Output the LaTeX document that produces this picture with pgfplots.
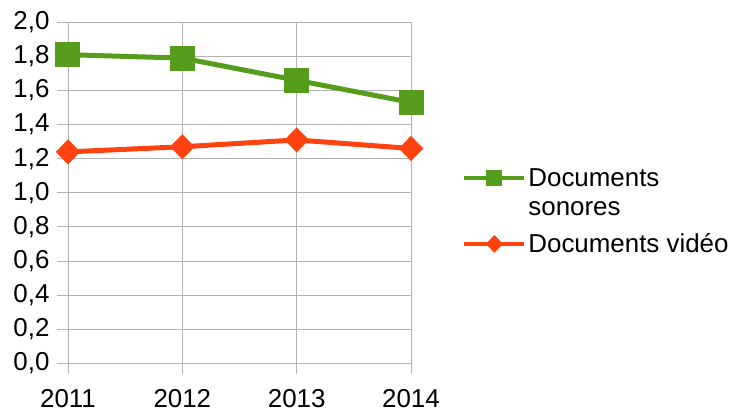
\documentclass[border=0pt]{standalone}
\usepackage{fontspec}
\setmainfont{Liberation Sans}
\usepackage{pgfplots}
\pgfplotsset{compat=1.18}
\definecolor{lgreen}{HTML}{579D1C}
\definecolor{lred}{HTML}{FF420E}
\definecolor{lgrid}{HTML}{B3B3B3}
\begin{document}
\begin{tikzpicture}
\useasboundingbox (-68bp,-49.7bp) rectangle (663bp,363.3bp);
\begin{axis}[
  at={(0,0)}, anchor=south west,
  scale only axis, width=343bp, height=341bp,
  xmin=0, xmax=3, ymin=0, ymax=2,
  xtick={0,1,2,3}, xticklabels={2011,2012,2013,2014},
  ytick={0,0.2,...,2.01},
  grid=major,
  major grid style={draw=lgrid, line width=0.8bp},
  axis line style={draw=lgrid, line width=0.8bp},
  tick style={draw=lgrid, line width=0.8bp},
  tick align=outside, major tick length=11bp,
  xtick pos=bottom, ytick pos=left,
  /pgf/number format/.cd, use comma, fixed, fixed zerofill, precision=1, assume math mode=true,
  /pgfplots/.cd,
  tick label style={font=\fontsize{26}{28.5}\selectfont, text=black},
  yticklabel style={xshift=-4bp},
  xticklabel style={yshift=-12bp},
  legend style={draw=none, fill=none, at={(1.15,0.5815)}, anchor=north west,
    font=\fontsize{26}{28.5}\selectfont, inner sep=0pt, outer sep=0pt,
    cells={anchor=base west}, row sep=41.5bp, column sep=0pt},
  legend image code/.code={\draw[mark repeat=2,mark phase=2,#1,line width=4bp,mark size=6bp] plot coordinates {(0bp,9bp) (30bp,9bp) (60bp,9bp)};},
]
\addplot[color=lgreen, line width=5bp, mark=square*, mark size=10bp, mark options={solid}]
  coordinates {(0,1.81) (1,1.79) (2,1.66) (3,1.53)};
\addlegendentry{\begin{tabular}[t]{@{}l@{}}Documents\\sonores\end{tabular}}
\addplot[color=lred, line width=5bp, mark=diamond*, mark size=9bp, mark options={solid, xscale=1.3}]
  coordinates {(0,1.24) (1,1.27) (2,1.31) (3,1.26)};
\addlegendentry{Documents vidéo}
\end{axis}
\end{tikzpicture}
\end{document}
